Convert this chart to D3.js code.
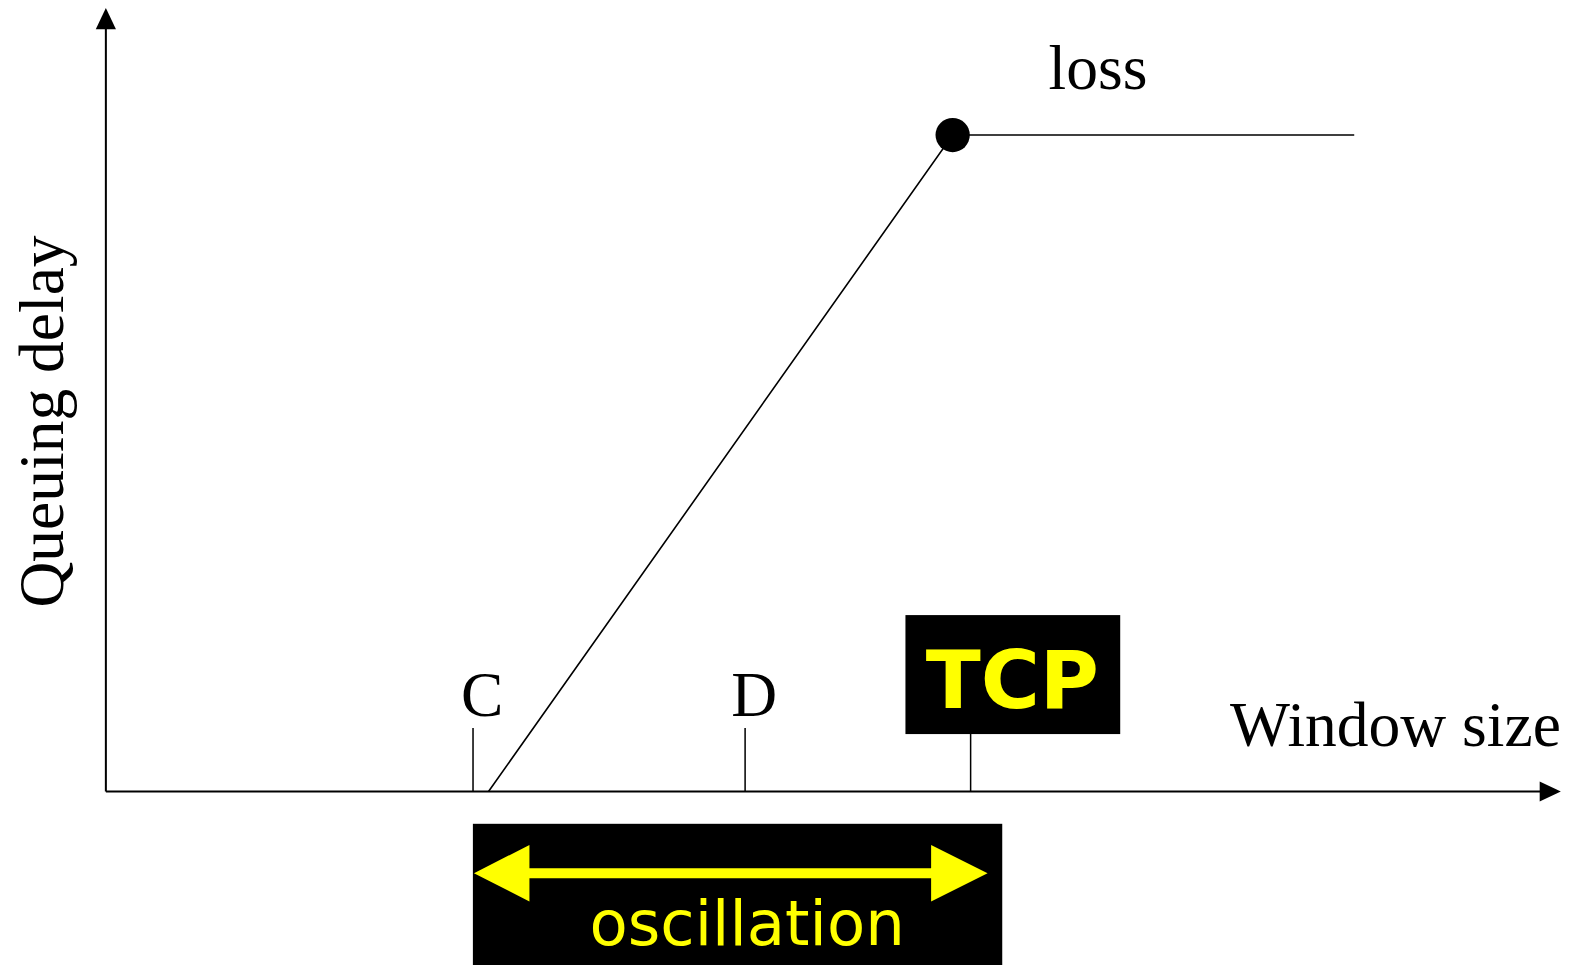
<!DOCTYPE html>
<html>
<head>
<meta charset="utf-8">
<script src="https://cdn.jsdelivr.net/npm/d3@7"></script>
<style>
  body { margin: 0; background: #fff; }
  svg { display: block; }
</style>
</head>
<body>
<div id="chart"></div>
<script>
// Tick marks on the window-size axis
const tickNames = ["C", "D", "TCP"];
const tickValues = [25.2, 43.9, 59.4];

// Queuing delay vs window size
const curveWindow = [26.3, 58.2, 85.8];
const curveDelay = [0, 83.8, 83.8];

// Oscillation range
const oscStart = 25.3;
const oscEnd = 60.6;

// Labels
const xLabel = "Window size";
const yLabel = "Queuing delay";
const lossLabel = "loss";
const oscLabel = "oscillation";

const W = 1568, H = 957;
const serif = "'Liberation Serif', 'Times New Roman', serif";
const sans = "'DejaVu Sans', Verdana, sans-serif";
const yellow = "#ffff00";

const svg = d3.select("#chart")
  .append("svg")
  .attr("width", 1581)
  .attr("height", 965)
  .attr("viewBox", "0 0 " + W + " " + H);

// Scales
const x = d3.scaleLinear().domain([0, 100]).range([105, 1548]);
const y = d3.scaleLinear().domain([0, 100]).range([785, 8]);

// Axes with arrow heads
svg.append("line")
  .attr("x1", x(0)).attr("y1", y(0))
  .attr("x2", x(0)).attr("y2", y(100) + 20)
  .attr("stroke", "#000").attr("stroke-width", 2);
svg.append("path")
  .attr("d", d3.line()([[x(0), y(100)], [x(0) - 10, y(100) + 21], [x(0) + 10, y(100) + 21]]) + "Z")
  .attr("fill", "#000");

svg.append("line")
  .attr("x1", x(0)).attr("y1", y(0))
  .attr("x2", x(100) - 20).attr("y2", y(0))
  .attr("stroke", "#000").attr("stroke-width", 2);
svg.append("path")
  .attr("d", d3.line()([[x(100), y(0)], [x(100) - 21, y(0) - 10], [x(100) - 21, y(0) + 10]]) + "Z")
  .attr("fill", "#000");

// Ticks pointing up from the x axis
const xAxis = d3.axisTop(x)
  .tickValues(tickValues)
  .tickSize(63)
  .tickPadding(12)
  .tickFormat((d, i) => tickNames[i] == "TCP" ? "" : tickNames[i]);

const gx = svg.append("g")
  .attr("transform", "translate(0," + y(0) + ")")
  .call(xAxis);
gx.select(".domain").remove();
gx.selectAll(".tick line").attr("stroke", "#000").attr("stroke-width", 1.5);
gx.selectAll(".tick text")
  .attr("dx", 9)
  .attr("fill", "#000")
  .style("font-family", serif)
  .style("font-size", "63px");

// Delay curve
const curve = curveWindow.map((w, i) => [x(w), y(curveDelay[i])]);
svg.append("path")
  .attr("d", d3.line()(curve))
  .attr("fill", "none")
  .attr("stroke", "#000")
  .attr("stroke-width", 1.6);

// Loss point
svg.append("circle")
  .attr("cx", x(curveWindow[1]))
  .attr("cy", y(curveDelay[1]))
  .attr("r", 17)
  .attr("fill", "#000");

svg.append("text")
  .attr("x", 1089)
  .attr("y", 88)
  .attr("text-anchor", "middle")
  .style("font-family", serif)
  .style("font-size", "63px")
  .text(lossLabel);

// Axis titles
svg.append("text")
  .attr("x", 1384)
  .attr("y", 740)
  .attr("text-anchor", "middle")
  .style("font-family", serif)
  .style("font-size", "63px")
  .text(xLabel);

svg.append("text")
  .attr("transform", "translate(62,418) rotate(-90)")
  .attr("text-anchor", "middle")
  .style("font-family", serif)
  .style("font-size", "63px")
  .text(yLabel);

// TCP box
const tcpX = x(tickValues[2]);
svg.append("rect")
  .attr("x", 898).attr("y", 610)
  .attr("width", 213).attr("height", 118)
  .attr("fill", "#000");
svg.append("text")
  .attr("x", 1004)
  .attr("y", 702)
  .attr("text-anchor", "middle")
  .attr("fill", yellow)
  .style("font-family", sans)
  .style("font-weight", "bold")
  .style("font-size", "80px")
  .text("TCP");

// Oscillation box
const ox0 = x(oscStart), ox1 = x(oscEnd);
svg.append("rect")
  .attr("x", 469).attr("y", 817)
  .attr("width", 525).attr("height", 150)
  .attr("fill", "#000");

const ay = 866;
const arrow = [
  [ox0, ay], [ox0 + 55, ay - 28], [ox0 + 55, ay - 5],
  [ox1 - 56, ay - 5], [ox1 - 56, ay - 28], [ox1, ay],
  [ox1 - 56, ay + 28], [ox1 - 56, ay + 5], [ox0 + 55, ay + 5],
  [ox0 + 55, ay + 28]
];
svg.append("path")
  .attr("d", d3.line()(arrow) + "Z")
  .attr("fill", yellow);

svg.append("text")
  .attr("x", 741)
  .attr("y", 937)
  .attr("text-anchor", "middle")
  .attr("fill", yellow)
  .style("font-family", sans)
  .style("font-size", "62px")
  .text(oscLabel);
</script>
</body>
</html>
